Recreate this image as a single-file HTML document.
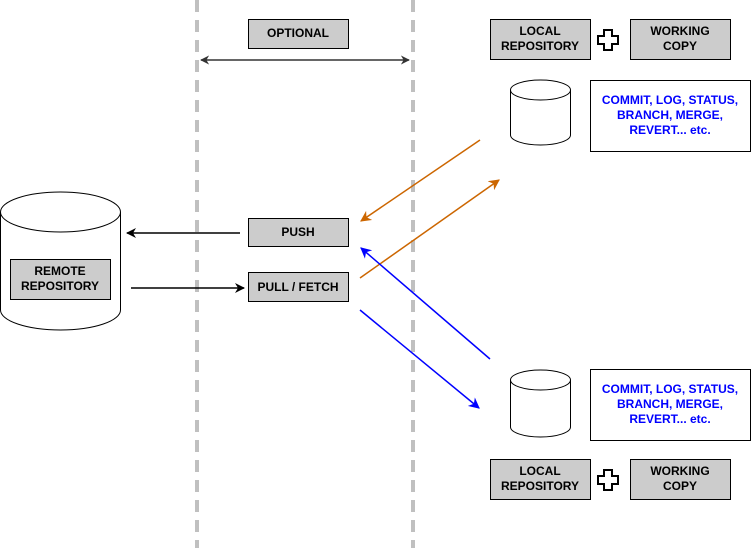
<!DOCTYPE html>
<html><head><style>body{margin:0;background:#fff}svg{display:block}text{font-family:"Liberation Sans",sans-serif;font-weight:bold;font-size:12px;text-anchor:middle}</style></head><body>
<svg width="752" height="548" viewBox="0 0 752 548">
<defs>
<marker id="k" viewBox="0 0 10 10" refX="9" refY="5" markerWidth="10" markerHeight="10" markerUnits="userSpaceOnUse" orient="auto"><path d="M0,0 L10,5 L0,10 L3,5z" fill="#000"/></marker>
<marker id="g" viewBox="0 0 10 10" refX="9" refY="5" markerWidth="9" markerHeight="9" markerUnits="userSpaceOnUse" orient="auto-start-reverse"><path d="M0,0 L10,5 L0,10 L3,5z" fill="#333"/></marker>
<marker id="o" viewBox="0 0 10 10" refX="9" refY="5" markerWidth="11" markerHeight="11" markerUnits="userSpaceOnUse" orient="auto"><path d="M0,0 L10,5 L0,10 L3,5z" fill="#CC6600"/></marker>
<marker id="b" viewBox="0 0 10 10" refX="9" refY="5" markerWidth="11" markerHeight="11" markerUnits="userSpaceOnUse" orient="auto"><path d="M0,0 L10,5 L0,10 L3,5z" fill="#0000FF"/></marker>
</defs>
<g stroke="#c0c0c0" stroke-width="4" stroke-dasharray="12,8">
<line x1="197" y1="0" x2="197" y2="548"/><line x1="413" y1="0" x2="413" y2="548"/></g>
<g stroke="#000" fill="#ccc" stroke-width="1">
<rect x="248.5" y="19.5" width="100" height="29"/>
<rect x="490.5" y="19.5" width="100" height="40"/>
<rect x="630.5" y="19.5" width="100" height="40"/>
<rect x="490.5" y="459.5" width="100" height="40"/>
<rect x="630.5" y="459.5" width="100" height="40"/>
<rect x="248.5" y="218.5" width="100" height="28"/>
<rect x="248.5" y="272.5" width="100" height="29"/>
</g>
<line x1="201" y1="60" x2="409" y2="60" stroke="#333" stroke-width="1.5" marker-start="url(#g)" marker-end="url(#g)"/>
<g fill="#fff" stroke="#000">
<path d="M0.5,212 A60,20 0 0 1 120.5,212 V310 A60,20 0 0 1 0.5,310 Z"/><path d="M0.5,212 A60,20 0 0 0 120.5,212" fill="none"/>
<path d="M510.5,90 A30,10 0 0 1 570.5,90 V135 A30,10 0 0 1 510.5,135 Z"/><path d="M510.5,90 A30,10 0 0 0 570.5,90" fill="none"/>
<path d="M510.5,380 A30,10 0 0 1 570.5,380 V427 A30,10 0 0 1 510.5,427 Z"/><path d="M510.5,380 A30,10 0 0 0 570.5,380" fill="none"/>
<rect x="590.5" y="80.5" width="160" height="71"/>
<rect x="590.5" y="369.5" width="160" height="71"/>
</g>
<rect x="10.5" y="259.5" width="100" height="40" fill="#ccc" stroke="#000"/>
<g fill="#fff" stroke="#000" stroke-width="2">
<path d="M604,30h8v6h6v8h-6v6h-8v-6h-6v-8h6z"/>
<path d="M604,470h8v6h6v8h-6v6h-8v-6h-6v-8h6z"/>
</g>
<g stroke-width="1.5" fill="none">
<line x1="240" y1="233" x2="127" y2="233" stroke="#000" marker-end="url(#k)"/>
<line x1="131" y1="288" x2="244" y2="288" stroke="#000" marker-end="url(#k)"/>
<line x1="480" y1="140" x2="361" y2="221" stroke="#CC6600" marker-end="url(#o)"/>
<line x1="360" y1="278" x2="499" y2="180" stroke="#CC6600" marker-end="url(#o)"/>
<line x1="490" y1="359" x2="361" y2="248" stroke="#0000FF" marker-end="url(#b)"/>
<line x1="360" y1="310" x2="479" y2="408" stroke="#0000FF" marker-end="url(#b)"/>
</g>
<text x="298" y="37">OPTIONAL</text>
<text x="540" y="35">LOCAL</text><text x="540" y="50">REPOSITORY</text>
<text x="680" y="35">WORKING</text><text x="680" y="50">COPY</text>
<text x="540" y="475">LOCAL</text><text x="540" y="490">REPOSITORY</text>
<text x="680" y="475">WORKING</text><text x="680" y="490">COPY</text>
<text x="298" y="236">PUSH</text>
<text x="298" y="291">PULL / FETCH</text>
<text x="60" y="275">REMOTE</text><text x="60" y="290">REPOSITORY</text>
<g fill="#0000FF"><text x="670" y="104">COMMIT, LOG, STATUS,</text><text x="670" y="119">BRANCH, MERGE,</text><text x="670" y="134">REVERT... etc.</text>
<text x="670" y="393">COMMIT, LOG, STATUS,</text><text x="670" y="408">BRANCH, MERGE,</text><text x="670" y="423">REVERT... etc.</text></g>
</svg></body></html>
